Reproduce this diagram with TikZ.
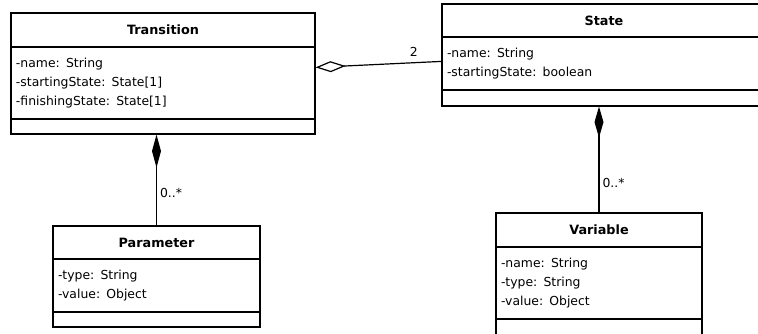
\documentclass[tikz,border=0pt]{standalone}
\usepackage{fontspec}
\setmainfont{DejaVu Sans}
\usetikzlibrary{arrows.meta}
\tikzset{
classtitle/.style={rectangle,draw,line width=1.2pt,inner sep=0pt,font=\fontsize{12.8}{19}\selectfont\bfseries},
classattr/.style={rectangle,draw,line width=1.2pt,inner xsep=5pt,inner ysep=0pt,align=left,font=\fontsize{12.4}{19}\selectfont},
classops/.style={rectangle,draw,line width=1.2pt,inner sep=0pt},
mult/.style={font=\fontsize{12.4}{19}\selectfont,inner sep=2pt}
}
\begin{document}
\begin{tikzpicture}[x=1pt,y=-1pt]
\clip (0,0) rectangle (758,333);
\fill[white] (0,0) rectangle (758,333);
\draw (163,30)node[classtitle,minimum width=304pt,minimum height=34pt](ttitle){Transition};
\draw (163,83)node[classattr,text width=294pt,minimum height=72pt](tattr){-name: String\\-startingState: State[1]\\-finishingState: State[1]};
\draw (163,126.5)node[classops,minimum width=304pt,minimum height=15pt](tops){};
\draw (604,20.5)node[classtitle,minimum width=324pt,minimum height=33pt](stitle){State};
\draw (604,63.5)node[classattr,text width=314pt,minimum height=53pt](sattr){-name: String\\-startingState: boolean};
\draw (604,98)node[classops,minimum width=324pt,minimum height=16pt](sops){};
\draw (156.5,242.5)node[classtitle,minimum width=207pt,minimum height=33pt](ptitle){Parameter};
\draw (156.5,285.5)node[classattr,text width=197pt,minimum height=53pt](pattr){-type: String\\-value: Object};
\draw (156.5,319.5)node[classops,minimum width=207pt,minimum height=15pt](pops){};
\draw (599,230)node[classtitle,minimum width=206pt,minimum height=34pt](vtitle){Variable};
\draw (599,283)node[classattr,text width=196pt,minimum height=72pt](vattr){-name: String\\-type: String\\-value: Object};
\draw (599,327)node[classops,minimum width=206pt,minimum height=16pt](vops){};
\draw[line width=1.2pt,{Diamond[open,length=30pt,width=11pt]}-] ([yshift=-21pt]tattr.north east) -- node[mult,pos=0.78,above=4pt]{2} ([yshift=-25pt]sattr.north west);
\draw[line width=1.2pt,{Diamond[length=33pt,width=9pt]}-] (tops.south -| ptitle.north) -- node[mult,pos=0.64,right=1pt]{0..*} (ptitle.north);
\draw[line width=1.2pt,{Diamond[length=31pt,width=9pt]}-] (sops.south -| vtitle.north) -- node[mult,pos=0.72,right=1pt]{0..*} (vtitle.north);
\end{tikzpicture}
\end{document}
